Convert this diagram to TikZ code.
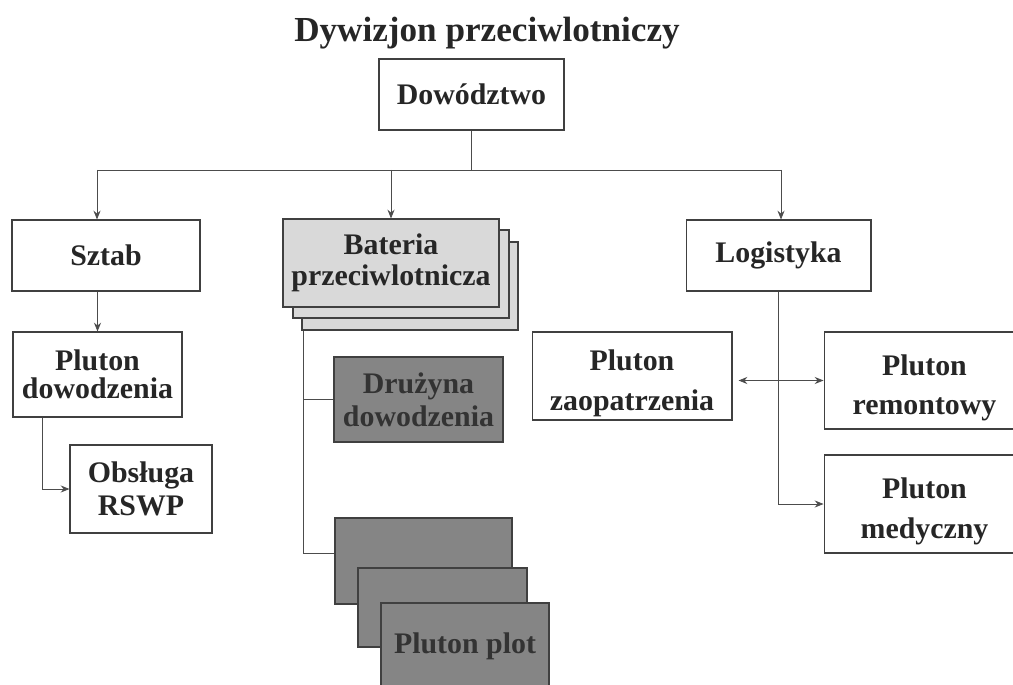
\documentclass[tikz,border=0pt]{standalone}
\usepackage{fontspec}
\setmainfont{Liberation Serif}
\usetikzlibrary{arrows.meta}
\newcommand{\lowstrut}{\rule{0pt}{20pt}}

\begin{document}
\begin{tikzpicture}[x=0.02cm, y=-0.02cm,
    unit/.style={rectangle, draw=black!75, line width=0.6pt, fill=white, inner sep=0pt, align=center, font=\bfseries\fontsize{17}{20}\selectfont, text=black!85},
    light/.style={unit, fill=black!15},
    dark/.style={unit, fill=black!48, text=black!80},
    link/.style={draw=black!70, line width=0.5pt},
    >={Stealth[length=5pt,width=4pt]}]
  \useasboundingbox (0,0) rectangle (1013,685);
  \clip (0,0) rectangle (1013,685);

  % Define units
  \node[font=\bfseries\fontsize{20}{24}\selectfont, text=black!85] (title) at (487,33) {Dywizjon przeciwlotniczy};
  \node[unit, minimum width=3.7cm, minimum height=1.42cm] (dow) at (471.5,94.5) {Dowództwo};
  \node[unit, minimum width=3.76cm, minimum height=1.42cm] (sztab) at (106,255.5) {Sztab};
  \node[light, minimum width=4.32cm, minimum height=1.76cm] (bat3) at (410,286) {};
  \node[light, minimum width=4.32cm, minimum height=1.76cm] (bat2) at (401,274) {};
  \node[light, minimum width=4.32cm, minimum height=1.76cm] (bat) at (391,263) {Bateria\\[-2pt]przeciwlotnicza};
  \node[unit, minimum width=3.7cm, minimum height=1.42cm] (log) at (778.5,255.5) {Logistyka};
  \node[unit, minimum width=3.38cm, minimum height=1.7cm] (pdow) at (97.5,374.5) {Pluton\\[-4pt]dowodzenia};
  \node[unit, minimum width=2.84cm, minimum height=1.76cm] (rswp) at (141,489) {Obsługa\\[-1pt]RSWP};
  \node[dark, minimum width=3.38cm, minimum height=1.7cm] (druz) at (418.5,399.5) {Drużyna\\[-1pt]dowodzenia};
  \node[dark, minimum width=3.54cm, minimum height=1.72cm] (plot1) at (423.5,561) {};
  \node[dark, minimum width=3.38cm, minimum height=1.58cm] (plot2) at (442.5,607.5) {};
  \node[dark, minimum width=3.36cm, minimum height=1.72cm] (plot3) at (465,646) {Pluton plot};
  \node[unit, minimum width=4cm, minimum height=1.76cm] (zaop) at (632,376) {\lowstrut Pluton\\[3pt]zaopatrzenia};
  \node[unit, minimum width=4.02cm, minimum height=1.94cm] (remont) at (924.5,380.5) {\lowstrut Pluton\\[2pt]remontowy};
  \node[unit, minimum width=4.02cm, minimum height=1.96cm] (med) at (924.5,504) {\lowstrut Pluton\\[3pt]medyczny};

  % Draw links
  \coordinate (busL) at (97,170);
  \coordinate (busR) at (781,170);
  \draw[link] (dow.south) -- (dow.south |- busL);
  \draw[link] (busL) -- (busR);
  \draw[link,->] (busL) -- (busL |- sztab.north);
  \draw[link,->] (bat.north |- busL) -- (bat.north);
  \draw[link,->] (busR) -- (busR |- log.north);
  \draw[link,->] (pdow.north |- sztab.south) -- (pdow.north);
  \draw[link,->] ([xshift=0.6cm]pdow.south west) |- (rswp.west);
  \draw[link] ([xshift=0.04cm]bat3.south west) |- (druz.west);
  \draw[link] ([xshift=0.04cm]bat3.south west) |- ([yshift=0.16cm]plot1.west);
  \draw[link,->] (log.south) |- (med.west);
  \draw[link,<->,shorten <=0.12cm] (zaop.east |- remont.west) -- (remont.west);
\end{tikzpicture}
\end{document}
